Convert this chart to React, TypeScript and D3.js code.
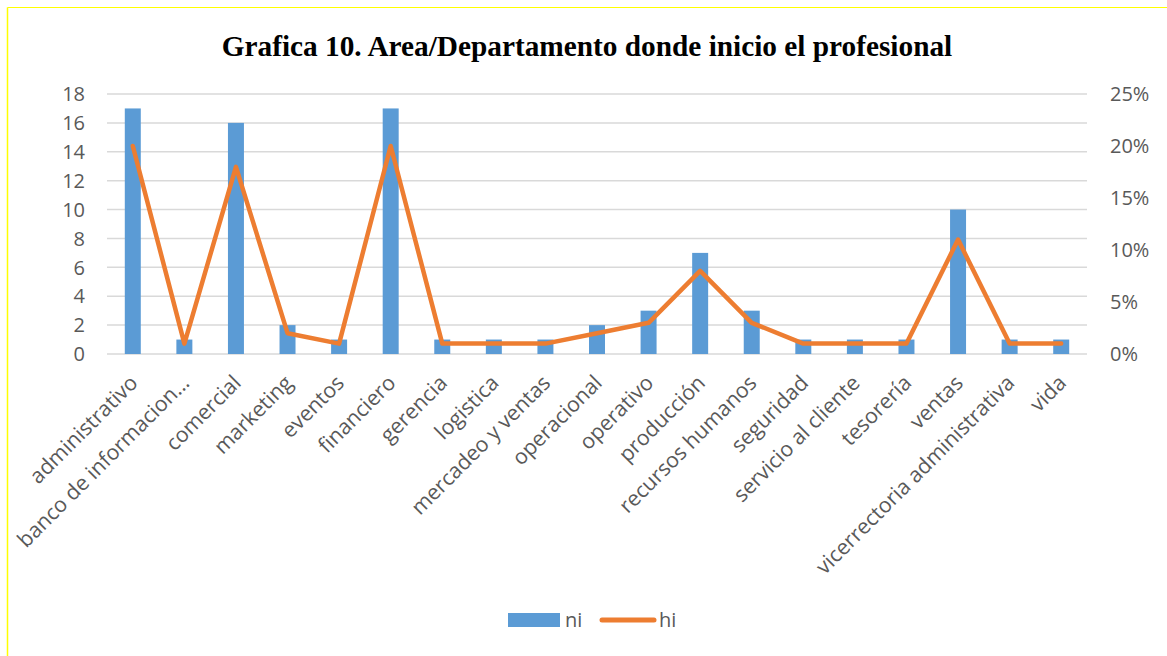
import React from "react";
import * as d3 from "d3";

const categories = [
  "administrativo",
  "banco de informacion…",
  "comercial",
  "marketing",
  "eventos",
  "financiero",
  "gerencia",
  "logistica",
  "mercadeo y ventas",
  "operacional",
  "operativo",
  "producción",
  "recursos humanos",
  "seguridad",
  "servicio al cliente",
  "tesorería",
  "ventas",
  "vicerrectoria administrativa",
  "vida",
];
const ni = [17, 1, 16, 2, 1, 17, 1, 1, 1, 2, 3, 7, 3, 1, 1, 1, 10, 1, 1];
const hi = [0.2, 0.01, 0.18, 0.02, 0.01, 0.2, 0.01, 0.01, 0.01, 0.02, 0.03, 0.08, 0.03, 0.01, 0.01, 0.01, 0.11, 0.01, 0.01];
const leftTicks = [0, 2, 4, 6, 8, 10, 12, 14, 16, 18];
const rightTicks = [0, 0.05, 0.1, 0.15, 0.2, 0.25];
const title = "Grafica 10. Area/Departamento donde inicio el profesional";

const W = 1167;
const H = 656;
const BLUE = "#5B9BD5";
const ORANGE = "#ED7D31";
const GRID = "#D9D9D9";
const TXT = "#595959";
const FONT = "'Open Sans', Lato, sans-serif";

export default function App() {
  const x = d3.scaleBand<string>().domain(categories).range([107, 1087]).paddingInner(0).paddingOuter(0);
  const yL = d3.scaleLinear().domain([0, 18]).range([354, 94]);
  const yR = d3.scaleLinear().domain([0, 0.25]).range([354, 94]);
  const bw = x.bandwidth() * 0.31;
  const line = d3
    .line<number>()
    .x((_, i) => (x(categories[i]) as number) + x.bandwidth() / 2)
    .y((d) => yR(d));
  const pct = d3.format(".0%");

  return (
    <svg
      width={W}
      height={H}
      style={{ position: "absolute", left: 0, top: 0, background: "#fff" }}
      xmlns="http://www.w3.org/2000/svg"
    >
      <rect x={0} y={0} width={W} height={H} fill="#fff" />
      <line x1={7.5} y1={7.5} x2={W} y2={7.5} stroke="#FFFF00" strokeWidth={1} />
      <line x1={7.5} y1={7.5} x2={7.5} y2={H} stroke="#FFFF00" strokeWidth={1.5} />

      <text
        x={587}
        y={56}
        textAnchor="middle"
        fontFamily="'Liberation Serif', 'Times New Roman', serif"
        fontWeight="bold"
        fontSize={29.3}
        fill="#000"
      >
        {title}
      </text>

      {leftTicks.map((t) => (
        <line key={"g" + t} x1={107} x2={1087} y1={yL(t)} y2={yL(t)} stroke={GRID} strokeWidth={1.5} />
      ))}

      {leftTicks.map((t) => (
        <text
          key={"l" + t}
          x={85}
          y={yL(t)}
          dy="0.36em"
          textAnchor="end"
          fontFamily={FONT}
          fontSize={20}
          fill={TXT}
        >
          {t}
        </text>
      ))}
      {rightTicks.map((t) => (
        <text
          key={"r" + t}
          x={1110}
          y={yR(t)}
          dy="0.36em"
          textAnchor="start"
          fontFamily={FONT}
          fontSize={20}
          fill={TXT}
        >
          {pct(t)}
        </text>
      ))}

      {ni.map((v, i) => (
        <rect
          key={"b" + i}
          x={(x(categories[i]) as number) + x.bandwidth() / 2 - bw / 2}
          y={yL(v)}
          width={bw}
          height={yL(0) - yL(v)}
          fill={BLUE}
        />
      ))}

      <path d={line(hi) || ""} fill="none" stroke={ORANGE} strokeWidth={4.5} strokeLinejoin="round" strokeLinecap="round" />

      {categories.map((c) => {
        const cx = (x(c) as number) + x.bandwidth() / 2;
        return (
          <text
            key={"c" + c}
            transform={`translate(${cx + 1},${379}) rotate(-45)`}
            textAnchor="end"
            dy="0.35em"
            fontFamily={FONT}
            fontSize={21.2}
            fill={TXT}
          >
            {c}
          </text>
        );
      })}

      <rect x={508} y={613} width={52} height={14} fill={BLUE} />
      <text x={565} y={620} dy="0.36em" fontFamily={FONT} fontSize={20} fill={TXT}>
        ni
      </text>
      <line x1={602} x2={654} y1={620} y2={620} stroke={ORANGE} strokeWidth={5} strokeLinecap="round" />
      <text x={659} y={620} dy="0.36em" fontFamily={FONT} fontSize={20} fill={TXT}>
        hi
      </text>
    </svg>
  );
}
